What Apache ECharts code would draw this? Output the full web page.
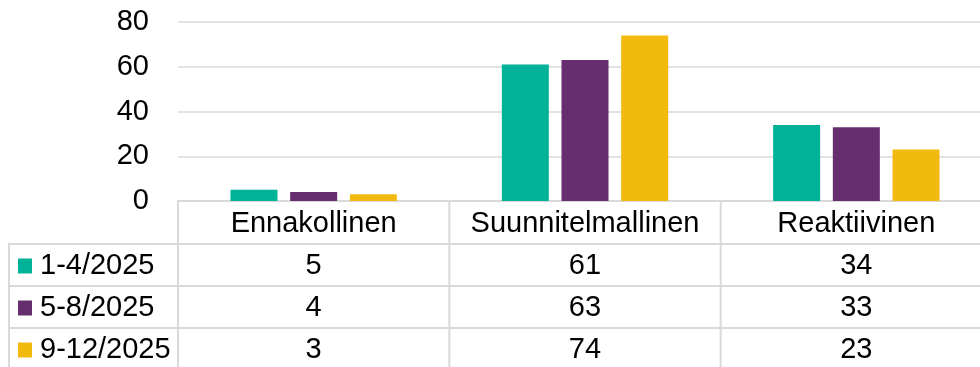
<!DOCTYPE html>
<html>
<head>
<meta charset="utf-8">
<script src="https://cdn.jsdelivr.net/npm/echarts@6/dist/echarts.min.js"></script>
<style>
  html, body { margin: 0; padding: 0; background: #fff; }
  #chart { width: 980px; height: 367px; }
</style>
</head>
<body>
<div id="chart"></div>
<script>
// Categories and the three reporting periods
const categories = ['Ennakollinen', 'Suunnitelmallinen', 'Reaktiivinen'];
const periods = ['1-4/2025', '5-8/2025', '9-12/2025'];
const values1 = [5, 61, 34];
const values2 = [4, 63, 33];
const values3 = [3, 74, 23];
const yTicks = [0, 20, 40, 60, 80];

const seriesValues = [values1, values2, values3];
const colors = ['#00B298', '#662D6F', '#F2B90F'];

const FONT = '"Liberation Sans", Arial, sans-serif';
const FS = 29;
const LINE = '#D9D9D9';

// Layout of plot area and data table underneath it
const gridLeft = 178, gridTop = 22, gridWidth = 814, gridHeight = 179;
const rowH = 42;
const tableLeft = 8;
const catW = gridWidth / categories.length;
const axisY = gridTop + gridHeight;
const W = 980, H = 367;

const chart = echarts.init(document.getElementById('chart'), null, { renderer: 'canvas' });

// Table rules: horizontal row separators and vertical column separators
const graphics = [];
for (let r = 1; r <= periods.length; r++) {
  const y = axisY + rowH * r + 1;
  graphics.push({ type: 'line', shape: { x1: tableLeft, y1: y, x2: W, y2: y },
    style: { stroke: LINE, lineWidth: 2 }, silent: true });
}
graphics.push({ type: 'line', shape: { x1: tableLeft + 1, y1: axisY + rowH + 1, x2: tableLeft + 1, y2: H },
  style: { stroke: LINE, lineWidth: 2 }, silent: true });
for (let c = 0; c < categories.length; c++) {
  const x = gridLeft + catW * c;
  graphics.push({ type: 'line', shape: { x1: x, y1: axisY, x2: x, y2: H },
    style: { stroke: LINE, lineWidth: 2 }, silent: true });
}

// One legend per table row: the series key column of the data table
const legends = periods.map((p, i) => ({
  orient: 'vertical',
  left: 18,
  top: axisY + rowH * i + rowH + 2,
  padding: 0,
  itemGap: 0,
  itemWidth: 14,
  itemHeight: 15,
  icon: 'rect',
  selectedMode: false,
  data: [p],
  textStyle: { fontFamily: FONT, fontSize: FS, color: '#000', lineHeight: rowH, padding: [0, 0, 0, 3] }
}));

const option = {
  animation: false,
  backgroundColor: '#fff',
  textStyle: { fontFamily: FONT },
  grid: {
    left: gridLeft, top: gridTop, width: gridWidth, height: gridHeight,
    containLabel: false, outerBoundsMode: 'none'
  },
  legend: legends,
  xAxis: {
    type: 'category',
    data: categories,
    axisLine: { show: true, lineStyle: { color: LINE, width: 2 } },
    axisTick: { show: false },
    splitLine: { show: false },
    axisLabel: {
      interval: 0,
      margin: 2,
      color: '#000',
      fontFamily: FONT,
      fontSize: FS,
      lineHeight: rowH,
      align: 'center',
      formatter: (name, idx) => [name].concat(seriesValues.map(v => String(v[idx]))).join('\n')
    }
  },
  yAxis: {
    type: 'value',
    min: 0,
    max: 80,
    interval: 20,
    axisLine: { show: false },
    axisTick: { show: false },
    splitLine: { lineStyle: { color: LINE, width: 1.5 } },
    axisLabel: {
      margin: 29,
      color: '#000',
      fontFamily: FONT,
      fontSize: FS,
      formatter: v => (yTicks.includes(v) ? String(v) : '')
    }
  },
  series: periods.map((p, i) => ({
    name: p,
    type: 'bar',
    data: seriesValues[i],
    barWidth: 47,
    barGap: '27%',
    itemStyle: { color: colors[i] }
  })),
  graphic: graphics
};

chart.setOption(option);
</script>
</body>
</html>
